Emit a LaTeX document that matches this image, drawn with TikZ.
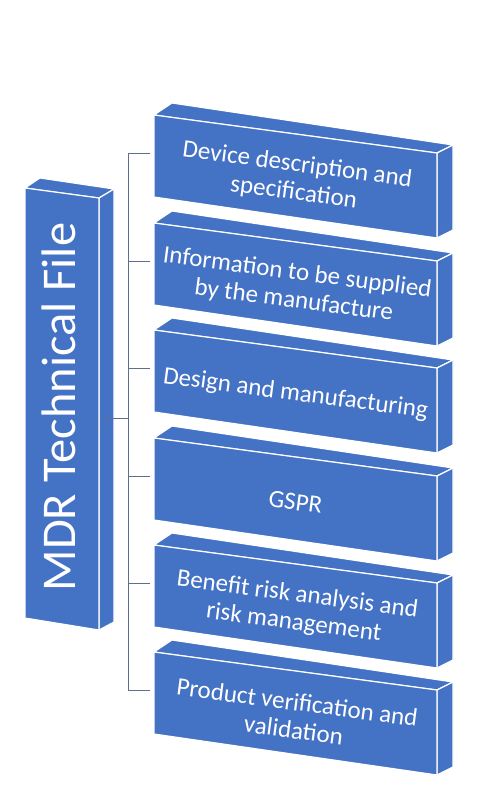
\documentclass[tikz,border=0pt]{standalone}
\usepackage{fontspec}
\setmainfont{Carlito}
\usepackage{xcolor}
\usepackage{tikz}
\usetikzlibrary{calc}

\definecolor{slabblue}{RGB}{68,114,196}
\definecolor{linkgray}{RGB}{95,110,140}

\begin{document}
\begin{tikzpicture}[
    x=1pt, y=-1pt,
    face/.style={fill=slabblue, draw=white, line width=1.2pt, line join=round},
    slabtext/.style={text=white, align=center, rotate=-7.5,
                     font=\fontsize{25}{28}\selectfont},
    link/.style={draw=linkgray, line width=0.8pt},
    slab/.pic={
        \path[face] (0,0) -- (18,-12) -- (299,30) -- (283,38) -- cycle;
        \path[face] (283,38) -- (299,30) -- (299,115) -- (283,123) -- cycle;
        \path[face] (0,0) -- (283,38) -- (283,123) -- (0,82) -- cycle;
        \coordinate (-w) at (-4,38);
        \coordinate (-c) at (141.5,64);
    }
]
\useasboundingbox (0,0) rectangle (486,800);

% left column
\path[face] (25,188) -- (40,178) -- (114,189) -- (99,198) -- cycle;
\path[face] (99,198) -- (114,189) -- (114,622) -- (99,630) -- cycle;
\path[face] (25,188) -- (99,198) -- (99,630) -- (25,618) -- cycle;
\node[text=white, rotate=90, font=\fontsize{48.5}{58}\selectfont] (mdr) at (59,407) {MDR Technical File};
\coordinate (mdr-e) at (102,418);

% the six slabs
\pic (b1) at (154,115) {slab};
\pic (b2) at (154,223) {slab};
\pic (b3) at (154,330) {slab};
\pic (b4) at (154,438) {slab};
\pic (b5) at (154,545) {slab};
\pic (b6) at (154,652) {slab};

\node[slabtext] (dev)  at (b1-c) {Device description and\\specification};
\node[slabtext] (info) at (b2-c) {Information to be supplied\\by the manufacture};
\node[slabtext] (des)  at (b3-c) {Design and manufacturing};
\node[slabtext] (gspr) at (b4-c) {GSPR};
\node[slabtext] (ben)  at (b5-c) {Benefit risk analysis and\\risk management};
\node[slabtext] (ver)  at (b6-c) {Product verification and\\validation};

% tree lines
\coordinate (top) at (128,153);
\coordinate (bot) at (128,690);
\draw[link] (top) -- (bot);
\draw[link] (mdr-e) -- (mdr-e -| top);
\foreach \i in {1,...,6}
  \draw[link] (b\i-w) -- (b\i-w -| top);
\end{tikzpicture}
\end{document}
